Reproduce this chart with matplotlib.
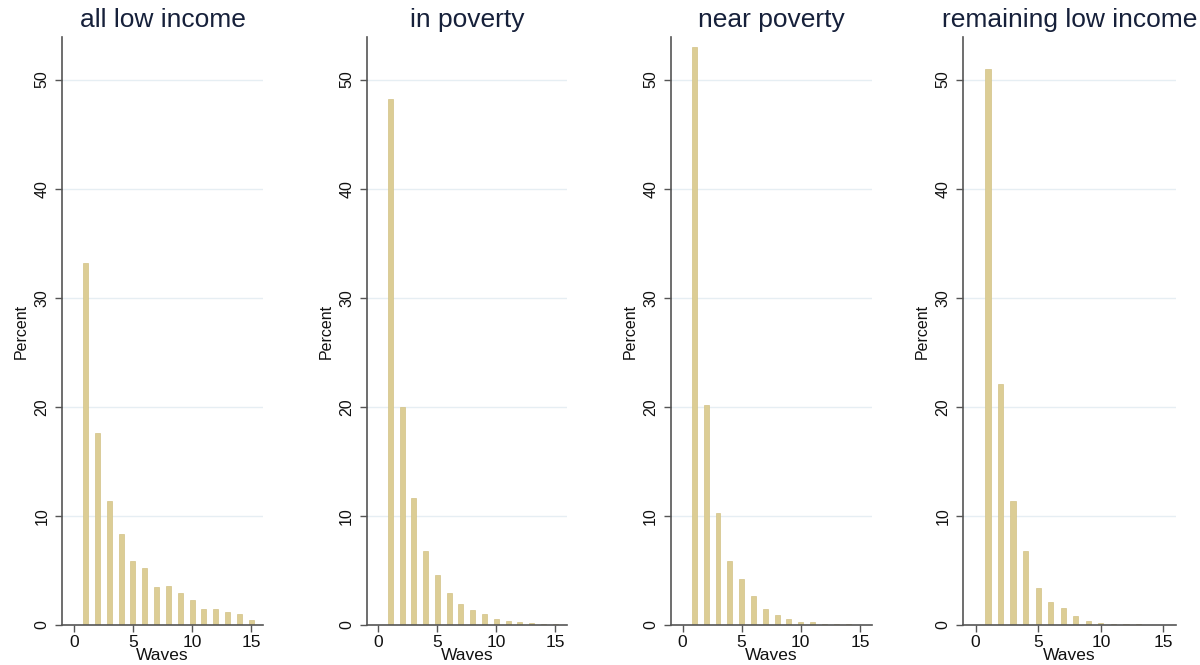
import matplotlib
matplotlib.use("Agg")
import matplotlib.pyplot as plt

plt.rcParams['font.family'] = ['Liberation Sans', 'DejaVu Sans']

waves = list(range(1, 16))

titles = ["all low income", "in poverty", "near poverty", "remaining low income"]

all_low_income = [33.2, 17.6, 11.4, 8.3, 5.9, 5.2, 3.5, 3.6, 2.9, 2.3, 1.5, 1.5, 1.2, 1.0, 0.5]
in_poverty = [48.2, 20.0, 11.6, 6.8, 4.6, 2.9, 1.95, 1.4, 1.0, 0.55, 0.35, 0.25, 0.15, 0.12, 0.08]
near_poverty = [53.0, 20.2, 10.3, 5.85, 4.2, 2.7, 1.45, 0.9, 0.58, 0.3, 0.25, 0.1, 0.08, 0.06, 0.0]
remaining_low_income = [51.0, 22.1, 11.4, 6.8, 3.4, 2.1, 1.55, 0.8, 0.37, 0.2, 0.1, 0.1, 0.08, 0.0, 0.0]

series = [all_low_income, in_poverty, near_poverty, remaining_low_income]

x_ticks = [0, 5, 10, 15]
y_ticks = [0, 10, 20, 30, 40, 50]

W, H = 1200, 665
fig = plt.figure(figsize=(W / 100, H / 100), dpi=100)

# panel extents in pixels (left, right)
panels_px = [(62, 263), (366.7, 567), (670.7, 871.7), (963, 1176)]
bottom_px, top_px = 625, 37

bar_color = "#dccd95"
edge_color = "#d2c286"
grid_color = "#e6eef3"
axis_color = "#555555"
title_color = "#16203a"

for (l, r), title, vals in zip(panels_px, titles, series):
    ax = fig.add_axes([l / W, 1 - bottom_px / H, (r - l) / W, (bottom_px - top_px) / H])
    ax.set_xlim(-1.0, 16.0)
    ax.set_ylim(0, 53.9)
    for yv in y_ticks[1:]:
        ax.axhline(yv, color=grid_color, lw=1.0, zorder=0)
    ax.bar(waves, vals, width=0.42, color=bar_color, edgecolor=edge_color,
           linewidth=0.5, zorder=2)
    ax.set_xticks(x_ticks)
    ax.set_yticks(y_ticks)
    ax.set_xticklabels([str(t) for t in x_ticks], fontsize=12.5)
    ax.set_yticklabels([str(t) for t in y_ticks], fontsize=11.5, rotation=90,
                       va='center')
    for s in ['top', 'right']:
        ax.spines[s].set_visible(False)
    for s in ['left', 'bottom']:
        ax.spines[s].set_color(axis_color)
        ax.spines[s].set_linewidth(1.2)
    ax.tick_params(axis='both', length=5, width=1.0, color=axis_color,
                   colors='#111111', pad=2.5)
    ax.tick_params(axis='y', pad=4)
    ax.set_xlabel("Waves", fontsize=12.5, labelpad=-1.5, color='#111111')
    ax.set_ylabel("Percent", fontsize=11.5, labelpad=4, color='#111111')
    ax.set_title(title, fontsize=19, color=title_color, pad=7)

fig.savefig("out.png", dpi=100, facecolor='white')
